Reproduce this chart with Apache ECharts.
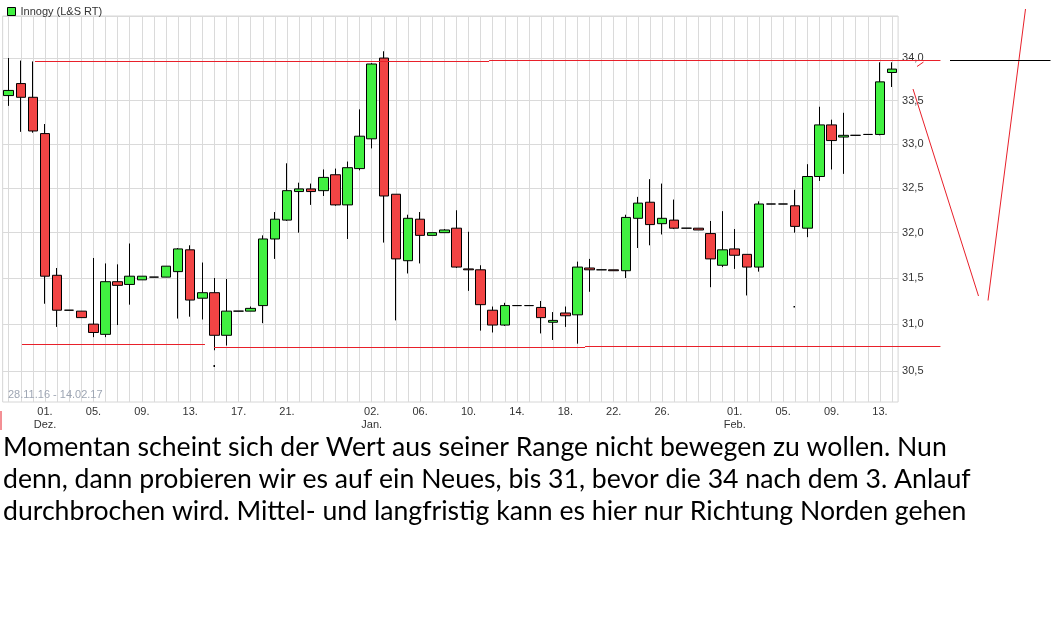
<!DOCTYPE html>
<html><head><meta charset="utf-8">
<script src="https://cdn.jsdelivr.net/npm/echarts@6/dist/echarts.min.js"></script>
<style>html,body{margin:0;padding:0;background:#fff}#c{width:1060px;height:623px}</style>
</head><body><div id="c"></div>
<script>
// ---- data ----
const categories = [
 '28.11.','29.11.','30.11.',
 '01.12.','02.12.','03.12.','04.12.','05.12.','06.12.','07.12.','08.12.','09.12.','10.12.',
 '11.12.','12.12.','13.12.','14.12.','15.12.','16.12.','17.12.','18.12.','19.12.','20.12.',
 '21.12.','22.12.','23.12.','27.12.','28.12.','29.12.','30.12.',
 '02.01.','03.01.','04.01.','05.01.','06.01.','07.01.','08.01.','09.01.','10.01.','11.01.',
 '12.01.','13.01.','14.01.','15.01.','16.01.','17.01.','18.01.','19.01.','20.01.','21.01.',
 '22.01.','23.01.','24.01.','25.01.','26.01.','27.01.','28.01.','29.01.','30.01.','31.01.',
 '01.02.','02.02.','03.02.','04.02.','05.02.','06.02.','07.02.','08.02.','09.02.','10.02.',
 '11.02.','12.02.','13.02.','14.02.'
];
const opens = [
 33.56,33.70,33.54,
 33.12,31.53,31.15,31.14,31.00,30.89,31.46,31.43,31.48,31.51,
 31.51,31.57,31.81,31.28,31.34,30.88,31.14,31.14,31.20,31.93,
 32.14,32.46,32.49,32.47,32.65,32.31,32.72,
 33.06,34.00,32.43,31.69,32.15,31.97,32.00,32.05,31.60,31.59,
 31.15,30.99,31.20,31.20,31.18,31.02,31.12,31.10,31.61,31.59,
 31.59,31.58,32.16,32.34,32.10,32.14,32.05,32.05,31.99,31.64,
 31.82,31.76,31.62,32.32,32.32,32.30,32.05,32.63,33.22,33.08,
 33.10,33.11,33.11,33.83
];
const closes = [
 33.62,33.54,33.15,
 31.52,31.15,31.15,31.07,30.91,31.46,31.42,31.52,31.52,31.51,
 31.63,31.82,31.26,31.34,30.88,31.14,31.14,31.17,31.93,32.15,
 32.47,32.49,32.46,32.62,32.31,32.73,33.09,
 33.93,32.41,31.71,32.16,31.97,32.00,32.03,31.62,31.59,31.21,
 30.99,31.20,31.20,31.20,31.07,31.04,31.09,31.62,31.59,31.59,
 31.58,32.17,32.33,32.09,32.16,32.05,32.05,32.03,31.71,31.81,
 31.75,31.62,32.32,32.32,32.32,32.07,32.63,33.22,33.04,33.10,
 33.10,33.11,33.72,33.87
];
const lows = [
 33.44,33.14,33.13,
 31.22,30.97,31.15,31.07,30.86,30.86,30.99,31.21,31.48,31.51,
 31.51,31.06,31.08,31.05,30.72,30.77,31.14,31.14,31.01,31.71,
 32.13,32.00,32.31,32.41,32.30,31.93,32.70,
 32.95,31.89,31.04,31.55,31.66,31.97,32.00,31.61,31.36,30.93,
 30.91,30.98,31.20,31.20,30.90,30.83,30.97,30.79,31.35,31.59,
 31.58,31.50,31.83,31.86,31.98,32.04,32.05,32.03,31.40,31.62,
 31.60,31.31,31.57,32.32,32.32,32.00,31.95,32.58,32.71,32.66,
 33.10,33.11,33.10,33.66
];
const highs = [
 34.00,33.97,33.96,
 33.23,31.61,31.15,31.14,31.72,31.66,31.65,31.88,31.52,31.51,
 31.63,31.83,31.86,31.67,31.50,31.49,31.14,31.19,31.97,32.23,
 32.78,32.56,32.55,32.71,32.72,32.80,33.40,
 33.94,34.08,32.43,32.20,32.23,32.00,32.04,32.25,32.01,31.64,
 31.19,31.23,31.20,31.20,31.25,31.13,31.19,31.68,31.71,31.59,
 31.59,32.20,32.40,32.60,32.55,32.37,32.05,32.05,32.13,32.24,
 32.04,31.76,32.35,32.32,32.32,32.48,32.77,33.43,33.28,33.36,
 33.10,33.11,33.95,33.95
];
const xTickLabels = [
 ['01.12.','01.\nDez.'],['05.12.','05.'],['09.12.','09.'],['13.12.','13.'],['17.12.','17.'],['21.12.','21.'],
 ['02.01.','02.\nJan.'],['06.01.','06.'],['10.01.','10.'],['14.01.','14.'],['18.01.','18.'],['22.01.','22.'],['26.01.','26.'],
 ['01.02.','01.\nFeb.'],['05.02.','05.'],['09.02.','09.'],['13.02.','13.']
];
const yTickValues = [30.5,31.0,31.5,32.0,32.5,33.0,33.5,34.0,34.5];
const yLabelValues = [30.5,31.0,31.5,32.0,32.5,33.0,33.5,34.0];
const seriesName = 'Innogy (L&S RT)';
const rangeText = '28.11.16 - 14.02.17';
// drawn annotation lines: [from slot, to slot, price]
const resistanceLines = [[2.17,39.7,33.965],[39.7,77.0,33.977]];
const supportLines = [[1.10,16.22,30.786],[16.96,47.63,30.757],[47.63,77.0,30.768]];
const paragraph = [
 'Momentan scheint sich der Wert aus seiner Range nicht bewegen zu wollen. Nun',
 'denn, dann probieren wir es auf ein Neues, bis 31, bevor die 34 nach dem 3. Anlauf',
 'durchbrochen wird. Mittel- und langfristig kann es hier nur Richtung Norden gehen'
];

// ---- chart ----
const labelMap = new Map(xTickLabels);
const candles = categories.map((c, i) => [opens[i], closes[i], lows[i], highs[i]]);
const FONT = 'Arial, "Liberation Sans", sans-serif';
const chart = echarts.init(document.getElementById('c'), null, {renderer: 'canvas'});
chart.setOption({
  animation: false,
  backgroundColor: '#fff',
  legend: {
    show: true, left: 2, top: 1, itemWidth: 8, itemHeight: 8, itemGap: 5,
    data: [{name: seriesName, icon: 'rect'}],
    itemStyle: {color: '#41f041', borderColor: '#000', borderWidth: 1},
    textStyle: {fontFamily: FONT, fontSize: 11, color: '#333'}
  },
  grid: {left: 2.65, right: 161.9, top: 16, bottom: 221, show: true, borderColor: '#d6d6d6', borderWidth: 1, containLabel: false},
  xAxis: {
    type: 'category', data: categories, boundaryGap: true,
    axisLine: {show: false}, axisTick: {show: false},
    splitLine: {show: true, interval: 0, alignWithLabel: true, lineStyle: {color: '#dadada', width: 1}},
    axisLabel: {
      interval: (i, v) => labelMap.has(v),
      formatter: v => labelMap.get(v) || '',
      margin: 3, fontFamily: FONT, fontSize: 11, color: '#333', lineHeight: 13
    }
  },
  yAxis: {
    type: 'log', logBase: 10, position: 'right', min: 30.173, max: 34.5,
    axisLine: {show: false},
    axisTick: {show: false, customValues: yTickValues},
    splitLine: {show: true, lineStyle: {color: '#dadada', width: 1}},
    axisLabel: {
      customValues: yLabelValues, margin: 4, fontFamily: FONT, fontSize: 11, color: '#333',
      formatter: v => Number(v).toFixed(1).replace('.', ',')
    }
  },
  series: [{
    name: seriesName, type: 'candlestick', data: candles, barWidth: 10,
    itemStyle: {color: '#41f041', color0: '#f24444', borderColor: '#000', borderColor0: '#000', borderColorDoji: '#000', borderWidth: 1}
  }]
});

// annotations placed through the chart's own scales
const x0 = chart.convertToPixel({xAxisIndex: 0}, categories[0]);
const xN = chart.convertToPixel({xAxisIndex: 0}, categories[categories.length - 1]);
const slotW = (xN - x0) / (categories.length - 1);
const sx = f => x0 + f * slotW;
const sy = v => chart.convertToPixel({yAxisIndex: 0}, v);
const RED = '#e8202a';
const g = [];
resistanceLines.concat(supportLines).forEach(([a, b, v]) => {
  const y = Math.round(sy(v)) + 0.5;
  g.push({type: 'line', silent: true, z: 100, shape: {x1: sx(a), y1: y, x2: sx(b), y2: y}, style: {stroke: RED, lineWidth: 1}});
});
// free-hand strokes right of the chart
const freehand = [
  [[913, 89], [978.5, 296]],
  [[988, 300.5], [1025.5, 9]],
  [[917, 66.5], [923.5, 62]]
];
freehand.forEach(([p, q]) => g.push({type: 'line', silent: true, z: 100, shape: {x1: p[0], y1: p[1], x2: q[0], y2: q[1]}, style: {stroke: RED, lineWidth: 1}}));
g.push({type: 'line', silent: true, z: 100, shape: {x1: 950, y1: 60.5, x2: 1050.5, y2: 60.5}, style: {stroke: '#000', lineWidth: 1}});
g.push({type: 'line', silent: true, z: 100, shape: {x1: 1, y1: 411, x2: 1, y2: 430}, style: {stroke: RED, lineWidth: 1}});
g.push({type: 'rect', silent: true, z: 100, shape: {x: 213.5, y: 365, width: 1.5, height: 2}, style: {fill: '#000'}});
g.push({type: 'rect', silent: true, z: 100, shape: {x: 793.5, y: 306, width: 1.5, height: 1.5}, style: {fill: '#000'}});
// date range text
g.push({type: 'text', silent: true, z: 50, left: 8, top: 389, style: {text: rangeText, font: '11px ' + FONT, fill: '#9ea6b4'}});
// paragraph
const ctx = document.createElement('canvas').getContext('2d');
ctx.font = '100px Lato';
const fs = 944 / ctx.measureText(paragraph[0]).width * 100;
const baselines = [456.3, 488, 519.7];
paragraph.forEach((t, i) => {
  g.push({type: 'text', silent: true, z: 50, style: {x: 3, y: baselines[i] - fs * 0.32, text: t, font: fs.toFixed(2) + 'px Lato', fill: '#000', verticalAlign: 'middle'}});
});
chart.setOption({graphic: g});
</script>
</body></html>
